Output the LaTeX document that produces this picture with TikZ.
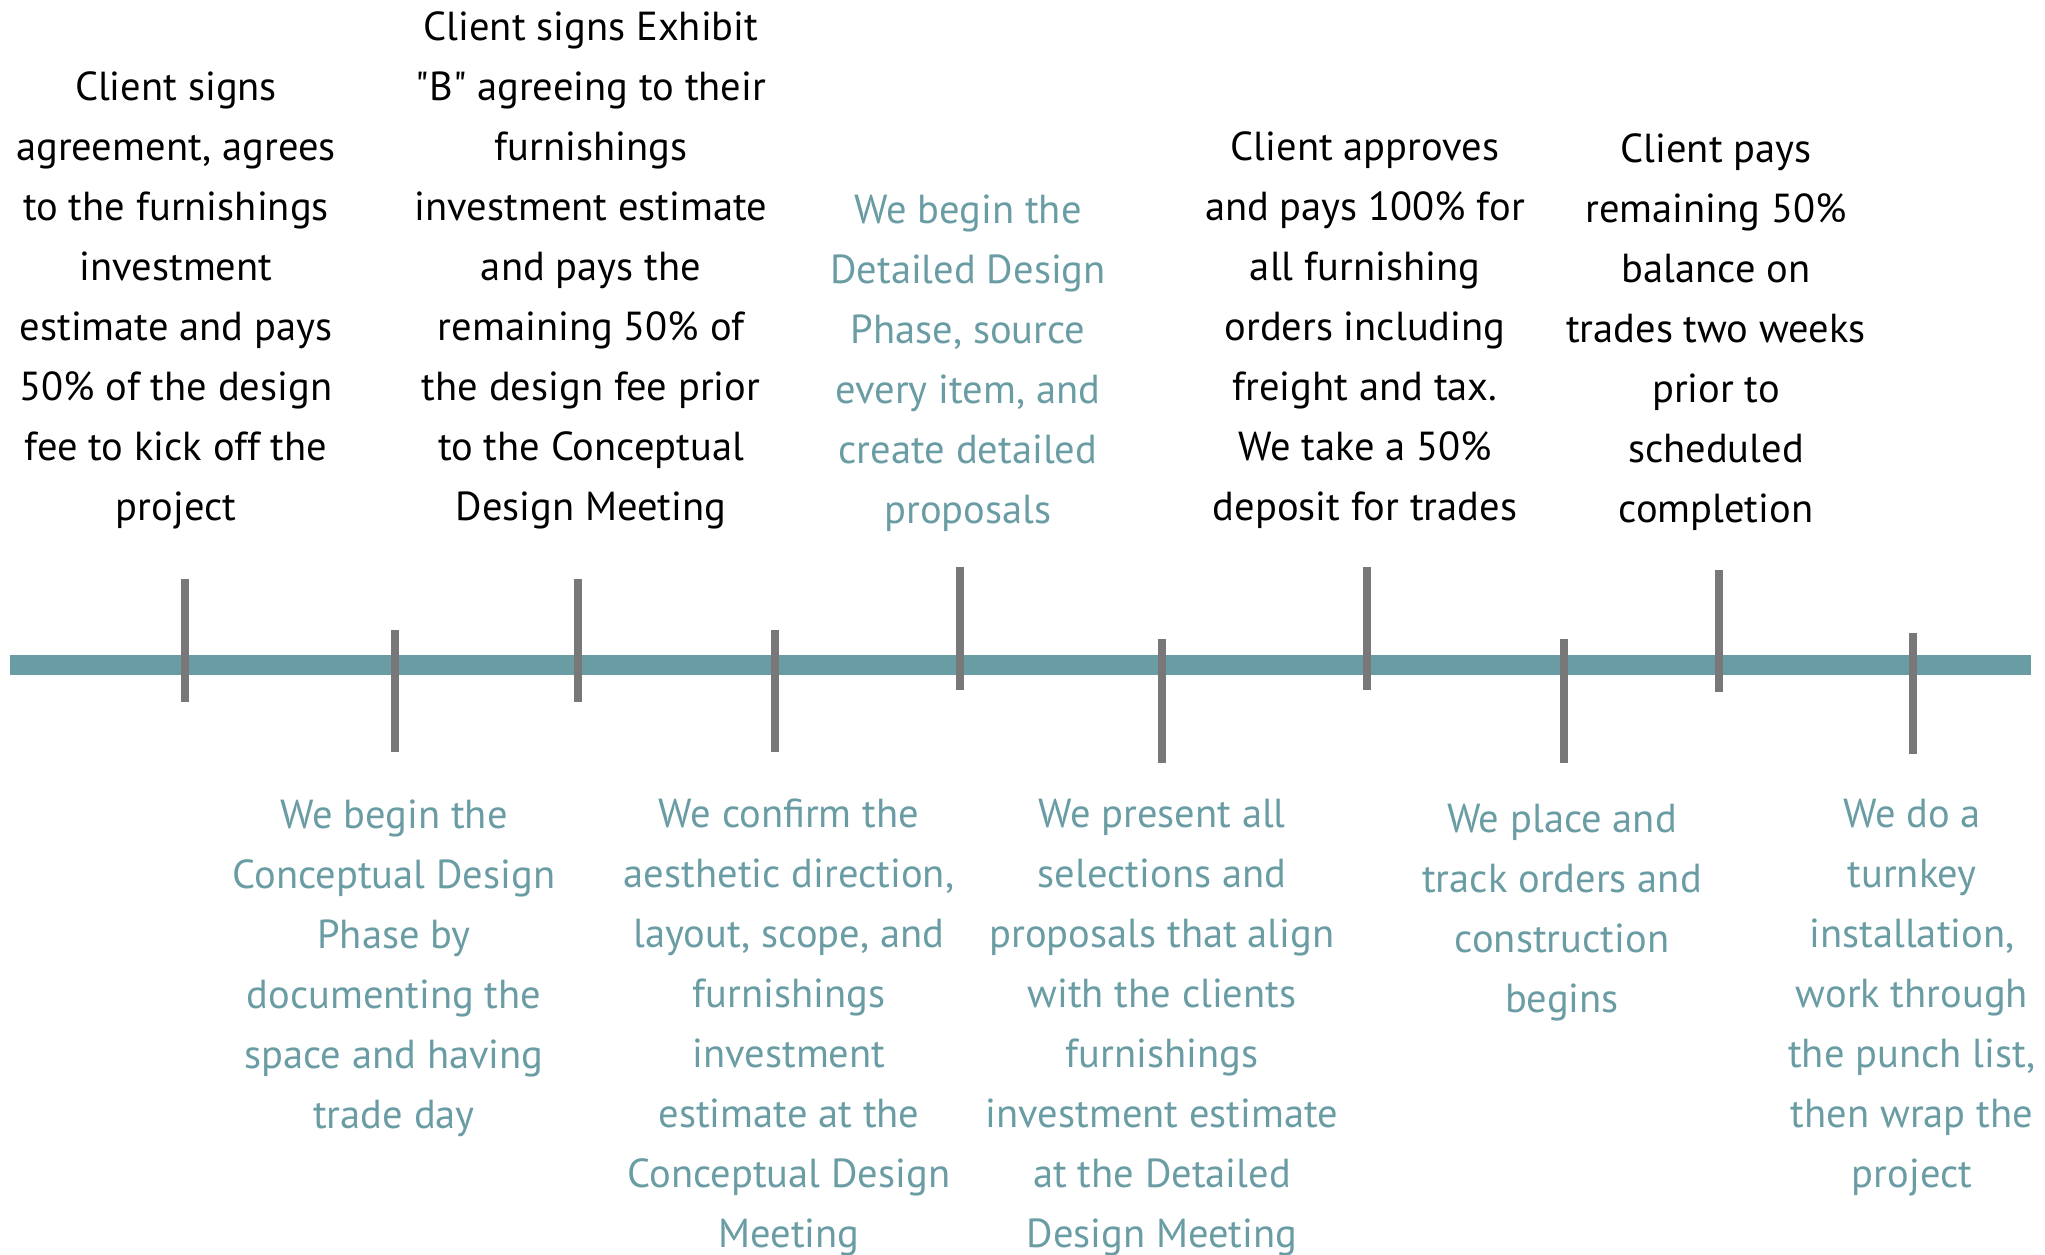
\documentclass[tikz,border=0pt]{standalone}
\usepackage{fontspec}
\setmainfont{PT Sans}[Ligatures=TeXOff]
\definecolor{tealc}{RGB}{106,156,164}
\definecolor{tickc}{RGB}{120,120,120}
\begin{document}
\begin{tikzpicture}[x=1pt,y=-1pt,
  lbl/.style={align=center,inner sep=0pt,font=\fontsize{40.5}{60}\selectfont},
  top/.style={lbl,text=black},
  bot/.style={lbl,text=tealc},
  tick/.style={draw=tickc,line width=8pt},
  bar/.style={draw=tealc,line width=20pt}]
\useasboundingbox (0,0) rectangle (2045,1254);
\coordinate (bl) at (10,664.5);
\coordinate (br) at (2031,664.5);
\draw[bar] (bl) -- (br);
% ticks
\foreach \x/\a/\b in {185/579/702, 395/630/752, 578/579/702, 775/630/752, 960/567/690, 1162/639/763, 1367/567/690, 1564/639/763, 1719/570/692, 1913/633/754}
  \draw[tick] (\x,\a) -- (\x,\b);
% top texts
\node[top] (t1) at (176,298) {\strut Client signs\\agreement, agrees\\to the furnishings\\investment\\estimate and pays\\50\% of the design\\fee to kick off the\\project\strut};
\node[top] (t2) at (591,268) {\strut Client signs Exhibit\\"B" agreeing to their\\furnishings\\investment estimate\\and pays the\\remaining 50\% of\\the design fee prior\\to the Conceptual\\Design Meeting\strut};
\node[bot] (t3) at (968,361) {\strut We begin the\\Detailed Design\\Phase, source\\every item, and\\create detailed\\proposals\strut};
\node[top] (t4) at (1365,328) {\strut Client approves\\and pays 100\% for\\all furnishing\\orders including\\freight and tax.\\We take a 50\%\\deposit for trades\strut};
\node[top] (t5) at (1716,330) {\strut Client pays\\remaining 50\%\\balance on\\trades two weeks\\prior to\\scheduled\\completion\strut};
% bottom texts
\node[bot] (b1) at (394,966) {\strut We begin the\\Conceptual Design\\Phase by\\documenting the\\space and having\\trade day\strut};
\node[bot] (b2) at (789,1025) {\strut We confirm the\\aesthetic direction,\\layout, scope, and\\furnishings\\investment\\estimate at the\\Conceptual Design\\Meeting\strut};
\node[bot] (b3) at (1162,1025) {\strut We present all\\selections and\\proposals that align\\with the clients\\furnishings\\investment estimate\\at the Detailed\\Design Meeting\strut};
\node[bot] (b4) at (1562,910) {\strut We place and\\track orders and\\construction\\begins\strut};
\node[bot] (b5) at (1912,995) {\strut We do a\\turnkey\\installation,\\work through\\the punch list,\\then wrap the\\project\strut};
\end{tikzpicture}
\end{document}
